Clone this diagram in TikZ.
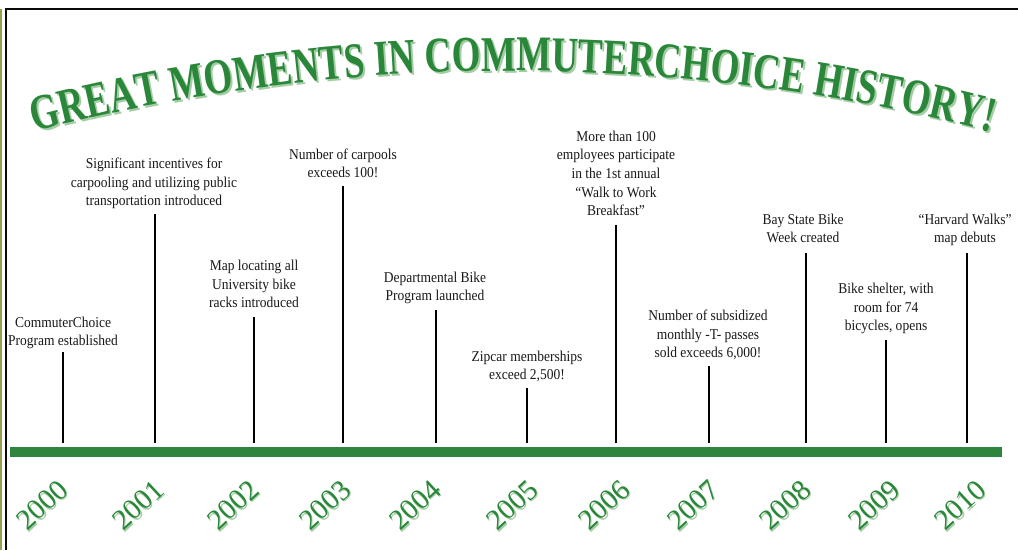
\documentclass[tikz,border=0pt]{standalone}
\usepackage{fontspec}
\setmainfont{Liberation Serif}
\newfontfamily\labelfont{Liberation Serif}[FakeStretch=0.9]
\newfontfamily\titlefont{Liberation Serif}[FakeStretch=0.74]
\newfontfamily\yearfont{Liberation Serif}
\usetikzlibrary{decorations.text}
\definecolor{tgreen}{RGB}{42,135,58}
\definecolor{tshadow}{RGB}{165,205,165}
\definecolor{bargreen}{RGB}{47,132,62}
\definecolor{framecol}{RGB}{10,10,10}
\definecolor{olivecol}{RGB}{150,160,80}
\tikzset{
  frameline/.style={line width=2.4pt, draw=framecol},
  oliveline/.style={line width=1.6pt, draw=olivecol},
  tickline/.style={line width=1.8pt, draw=black},
  bar/.style={fill=bargreen, inner sep=0pt, minimum width=992pt, minimum height=10pt},
  evlabel/.style={font=\labelfont\fontsize{15}{18.7}\selectfont, align=center,
    inner sep=0pt, anchor=south, text depth=0pt, text=black!90},
  yearlabel/.style={font=\yearfont\fontsize{29}{29}\selectfont, text=tgreen,
    rotate=43, inner sep=0pt},
  yearshadow/.style={yearlabel, text=tshadow},
}
\begin{document}
\begin{tikzpicture}[x=1pt,y=-1pt]
\useasboundingbox (0,0) rectangle (1018,550);
\fill[white] (0,0) rectangle (1018,550);
% frame
\coordinate (oA) at (1,9);
\coordinate (oB) at (1,550);
\coordinate (fA) at (6,550);
\coordinate (fB) at (6,9);
\coordinate (fC) at (1018,9);
\draw[oliveline] (oA) -- (oB);
\draw[frameline] (fA) -- (fB) -- (fC);
% title
\path[decorate, shift={(2,2)}, decoration={text along path, text align=center,
  text={|\titlefont\bfseries\fontsize{50}{50}\selectfont\color{tshadow}|GREAT MOMENTS IN COMMUTERCHOICE HISTORY!}}]
  (30,133) arc[start angle=-104.67, end angle=-75.3, radius=1904];
\path[decorate, decoration={text along path, text align=center,
  text={|\titlefont\bfseries\fontsize{50}{50}\selectfont\color{tgreen}|GREAT MOMENTS IN COMMUTERCHOICE HISTORY!}}]
  (30,133) arc[start angle=-104.67, end angle=-75.3, radius=1904];
% bar
\node[bar] (bar) at (506,452) {};
% events
\foreach \i/\x/\top/\lx/\base/\txt in {
  0/63/352/63/346/{CommuterChoice\\Program established},
  1/155/214/154/206/{Significant incentives for\\carpooling and utilizing public\\transportation introduced},
  2/254/317/254/308/{Map locating all\\University bike\\racks introduced},
  3/343/186/343/178/{Number of carpools\\exceeds 100!},
  4/436/310/435/301/{Departmental Bike\\Program launched},
  5/527/388/527/380/{Zipcar memberships\\exceed 2,500!},
  6/616/225/616/216/{More than 100\\employees participate\\in the 1st annual\\“Walk to Work\\Breakfast”},
  7/709/366/708/358/{Number of subsidized\\monthly -T- passes\\sold exceeds 6,000!},
  8/806/253/803/243/{Bay State Bike\\Week created},
  9/886/340/886/331/{Bike shelter, with\\room for 74\\bicycles, opens},
  10/967/253/965/243/{“Harvard Walks”\\map debuts}} {
  \node[evlabel] (lab\i) at (\lx,\base) {\txt};
  \coordinate (tb\i) at (\x,443);
  \coordinate (tt\i) at (\x,\top);
  \draw[tickline] (tb\i) -- (tt\i);
}
% years
\foreach \i/\yx/\yr in {0/42/2000,1/138/2001,2/233/2002,3/325/2003,4/415/2004,
  5/512/2005,6/604/2006,7/693/2007,8/785/2008,9/874/2009,10/960/2010} {
  \node[yearshadow] (ys\i) at (\yx+1.3,506.3) {\yr};
  \node[yearlabel] (y\i) at (\yx,505) {\yr};
}
\end{tikzpicture}
\end{document}
